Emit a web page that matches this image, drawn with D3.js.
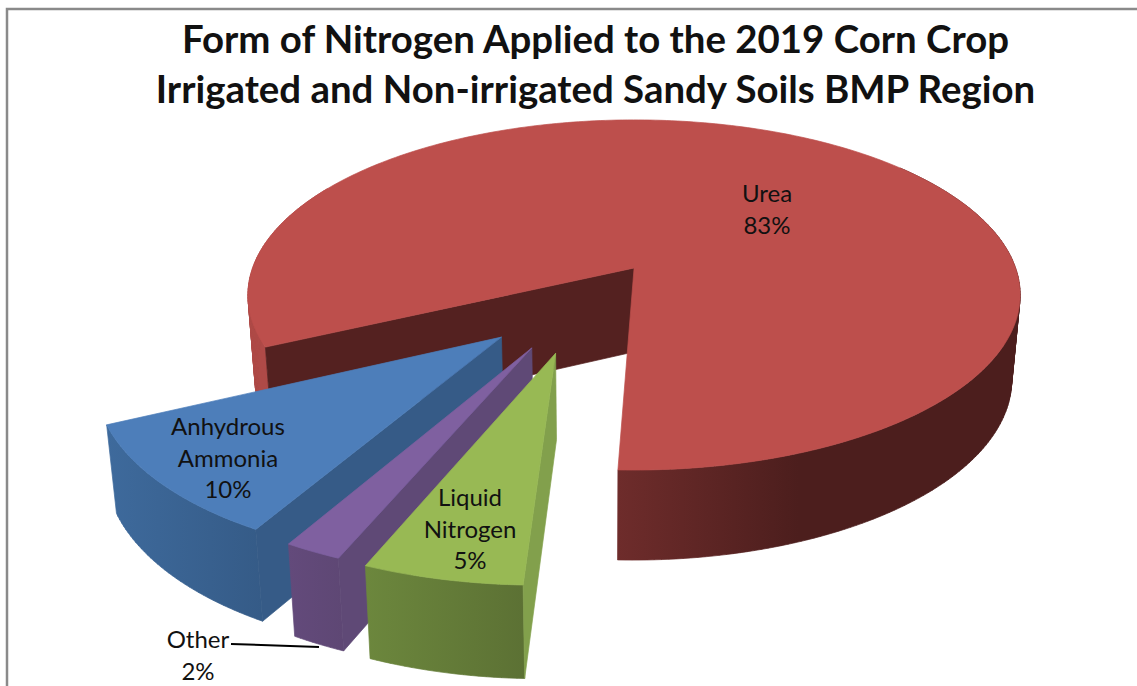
<!DOCTYPE html>
<html>
<head>
<meta charset="utf-8">
<script src="https://cdn.jsdelivr.net/npm/d3@7"></script>
<style>
  html, body { margin: 0; padding: 0; background: #fff; overflow: hidden; }
  svg { display: block; }
  text { font-family: Lato, "Open Sans", sans-serif; fill: #111; }
</style>
</head>
<body>
<div id="chart"></div>
<script>
// Data. Clockwise order, as the pie is drawn
var categories = ["Urea", "Liquid Nitrogen", "Other", "Anhydrous Ammonia"];
var percents = [82.67, 5.49, 2.0, 9.84];
var titleLines = ["Form of Nitrogen Applied to the 2019 Corn Crop", "Irrigated and Non-irrigated Sandy Soils BMP Region"];

var width = 1137;
var height = 686;

// Pie settings: first slice angle and how far each slice is pulled out
var firstSlice = 244.4;
var explodeLength = [0.005, 0.503, 0.505, 0.505];
var explodeAngle = [270, 202.9, 210.3, 221.1];
var sliceRadius = [1, 0.98, 0.98, 0.98];

// Colours per slice: top, front of the rim (left, right), cut wall
var topColor = ["#BD4F4C", "#98B954", "#7F60A0", "#4D7EBA"];
var rimLeft = ["#6E2C2B", "#6C873D", "#634A7B", "#3E6A9C"];
var rimRight = ["#4C1E1D", "#5C7134", "#5E4774", "#355B87"];
var wallColor = ["#542120", "#82A04C", "#5F4976", "#365B87"];

// Projection of the pie plane on screen, with some perspective
var radiusPx = 381.5;
var flatten = 0.448;
var persp = 0.154;
function project(u, v, z) {
  var s = 1 / (1 - persp * v);
  var x = 636 + radiusPx * u * s;
  var y = 268 + radiusPx * flatten * v * s;
  // z = 1 is the underside of the slab
  return [600 + (x - 600) * (1 - 0.02 * z), y + z * (84 + 0.03 * (y - 268))];
}

var svg = d3.select("#chart")
  .append("svg")
  .attr("width", width)
  .attr("height", height);

svg.append("rect").attr("width", width).attr("height", height).attr("fill", "#fff");

// frame, only top and left are in the picture
svg.append("path")
  .attr("d", d3.line()([[width, 9], [7, 9], [7, height]]))
  .attr("fill", "none")
  .attr("stroke", "#8a8a8a")
  .attr("stroke-width", 2.5);

var defs = svg.append("defs");
var pie = d3.pie()
  .sort(null)
  .startAngle(firstSlice * Math.PI / 180)
  .endAngle((firstSlice + 360) * Math.PI / 180);
var slices = pie(percents);
var line = d3.line();

function offsetOf(i) {
  var a = explodeAngle[i] * Math.PI / 180;
  return [explodeLength[i] * Math.sin(a), -explodeLength[i] * Math.cos(a)];
}
function rimPoint(i, a, r, z) {
  var o = offsetOf(i);
  return project(o[0] + r * sliceRadius[i] * Math.sin(a), o[1] - r * sliceRadius[i] * Math.cos(a), z);
}
function arcPoints(i, a0, a1, z) {
  var n = Math.max(2, Math.ceil(Math.abs(a1 - a0) * 60));
  return d3.range(n + 1).map(k => rimPoint(i, a0 + (a1 - a0) * k / n, 1, z));
}
// rim as a row of small quads, all wound the same way so the fold at the
// silhouette does not cancel out in the fill
function band(i, a0, a1) {
  var up = arcPoints(i, a0, a1, 0);
  var down = arcPoints(i, a0, a1, 1);
  return d3.range(up.length - 1).map(k => {
    return line(d3.polygonHull([up[k], up[k + 1], down[k + 1], down[k]])) + "Z";
  }).join("");
}
function cutWall(i, a) {
  return line([rimPoint(i, a, 0, 0), rimPoint(i, a, 1, 0), rimPoint(i, a, 1, 1), rimPoint(i, a, 0, 1)]) + "Z";
}
function topFace(i) {
  var d = slices[i];
  return line([rimPoint(i, d.startAngle, 0, 0)].concat(arcPoints(i, d.startAngle, d.endAngle, 0))) + "Z";
}

slices.forEach((d, i) => {
  var grad = defs.append("linearGradient").attr("id", "rim" + i);
  grad.append("stop").attr("offset", "0%").attr("stop-color", rimLeft[i]);
  grad.append("stop").attr("offset", i == 0 ? "45%" : "100%").attr("stop-color", rimRight[i]);
});

var deg = Math.PI / 180;
var marks = svg.append("g");

function face(g, d, fill) {
  // stroke in the same colour closes the hairline seams between faces
  g.append("path").attr("d", d).attr("fill", fill).attr("stroke", fill).attr("stroke-width", 0.7);
}

// draw back to front: urea first, then the pulled out slices
[0, 3, 2, 1].forEach(i => {
  var d = slices[i];
  var g = marks.append("g").attr("class", "slice");
  if (i == 0) {
    // lit bit of the rim on the far left, next to the cut
    face(g, band(i, d.startAngle, 300 * deg), "#AF4A48");
    face(g, cutWall(i, d.startAngle), wallColor[i]);
    face(g, band(i, 50 * deg, d.endAngle - 2 * Math.PI), "url(#rim0)");
  } else {
    face(g, band(i, d.startAngle, d.endAngle), "url(#rim" + i + ")");
    face(g, cutWall(i, d.startAngle), wallColor[i]);
  }
  face(g, topFace(i), topColor[i]);
});

// leader line of the small slice
svg.append("path")
  .attr("d", line([[231, 644], [319, 647]]))
  .attr("fill", "none")
  .attr("stroke", "#000")
  .attr("stroke-width", 2);

// labels
var labelLines = [["Urea"], ["Liquid", "Nitrogen"], ["Other"], ["Anhydrous", "Ammonia"]];
var labelAnchor = [[767, 202], [470, 506], [198, 648], [228, 435]];
slices.forEach((d, i) => {
  var rows = labelLines[i].concat([Math.round(d.data) + "%"]);
  svg.append("text")
    .attr("text-anchor", "middle")
    .attr("font-size", 24)
    .selectAll("tspan")
    .data(rows)
    .join("tspan")
      .attr("x", labelAnchor[i][0])
      .attr("y", (r, k) => labelAnchor[i][1] + k * 31.7)
      .text(r => r);
});

svg.append("text")
  .attr("text-anchor", "middle")
  .attr("font-size", 38.4)
  .attr("font-weight", 700)
  .selectAll("tspan")
  .data(titleLines)
  .join("tspan")
    .attr("x", 595.5)
    .attr("y", (r, k) => 53 + k * 50)
    .text(r => r);
</script>
</body>
</html>
